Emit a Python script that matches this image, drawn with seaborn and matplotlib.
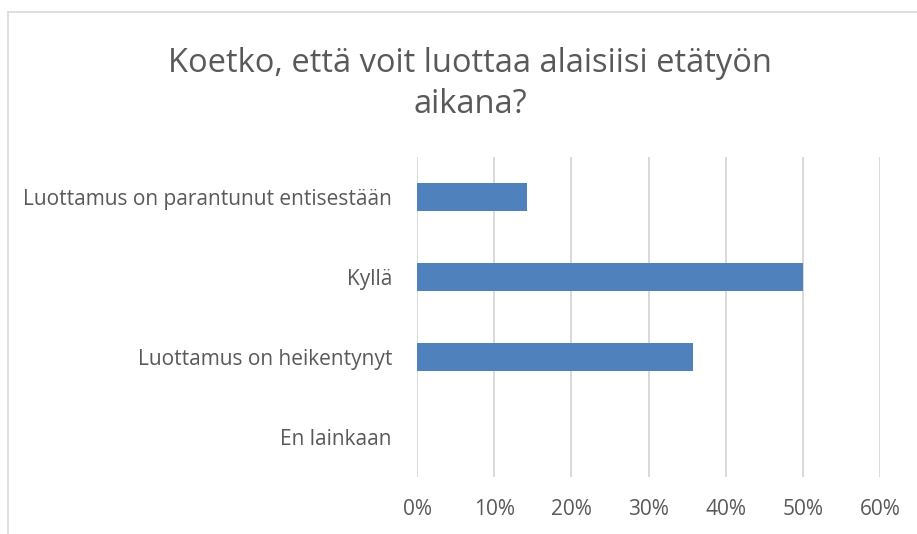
import matplotlib
matplotlib.use("Agg")
import matplotlib.pyplot as plt
import seaborn as sns
import pandas as pd
from matplotlib.lines import Line2D
from matplotlib.ticker import FuncFormatter, MultipleLocator

categories = ["Luottamus on parantunut entisestään", "Kyllä", "Luottamus on heikentynyt", "En lainkaan"]
values = [14.29, 50.0, 35.71, 0.0]
title = "Koetko, että voit luottaa alaisiisi etätyön\naikana?"

df = pd.DataFrame({"cat": categories, "val": values})

sns.set_theme(style="white")
plt.rcParams['font.family'] = ['Open Sans', 'DejaVu Sans']

fig = plt.figure(figsize=(9.17, 5.34), dpi=100)
ax = fig.add_axes([417/917, (534-477)/534, (880-417)/917, (477-157)/534])

sns.barplot(data=df, y="cat", x="val", orient="h", color="#4F81BD", width=0.35,
            saturation=1, linewidth=0, ax=ax, zorder=3)

ax.set_xlim(0, 60)
ax.set_ylim(3.5, -0.5)
ax.xaxis.set_major_locator(MultipleLocator(10))
ax.xaxis.set_major_formatter(FuncFormatter(lambda v, p: f"{int(round(v))}%"))
ax.grid(axis="x", color="#D9D9D9", linewidth=1.4, zorder=0)
ax.grid(axis="y", visible=False)
for s in ax.spines.values():
    s.set_visible(False)
ax.set_xlabel("")
ax.set_ylabel("")
ax.tick_params(axis="both", length=0, labelsize=15, labelcolor="#595959")
ax.tick_params(axis="x", pad=16)
ax.tick_params(axis="y", pad=18)

fig.text(470/917, 1 - 84/534, title, ha="center", va="center", fontsize=23.5,
         color="#595959", linespacing=1.32)

# chart border (cropped)
fig.add_artist(Line2D([8/917, 8/917], [0, 1 - 12/534], color="#D9D9D9", linewidth=1.2, transform=fig.transFigure))
fig.add_artist(Line2D([8/917, 1], [1 - 12/534, 1 - 12/534], color="#D9D9D9", linewidth=1.2, transform=fig.transFigure))

fig.savefig("out.png", dpi=100)
